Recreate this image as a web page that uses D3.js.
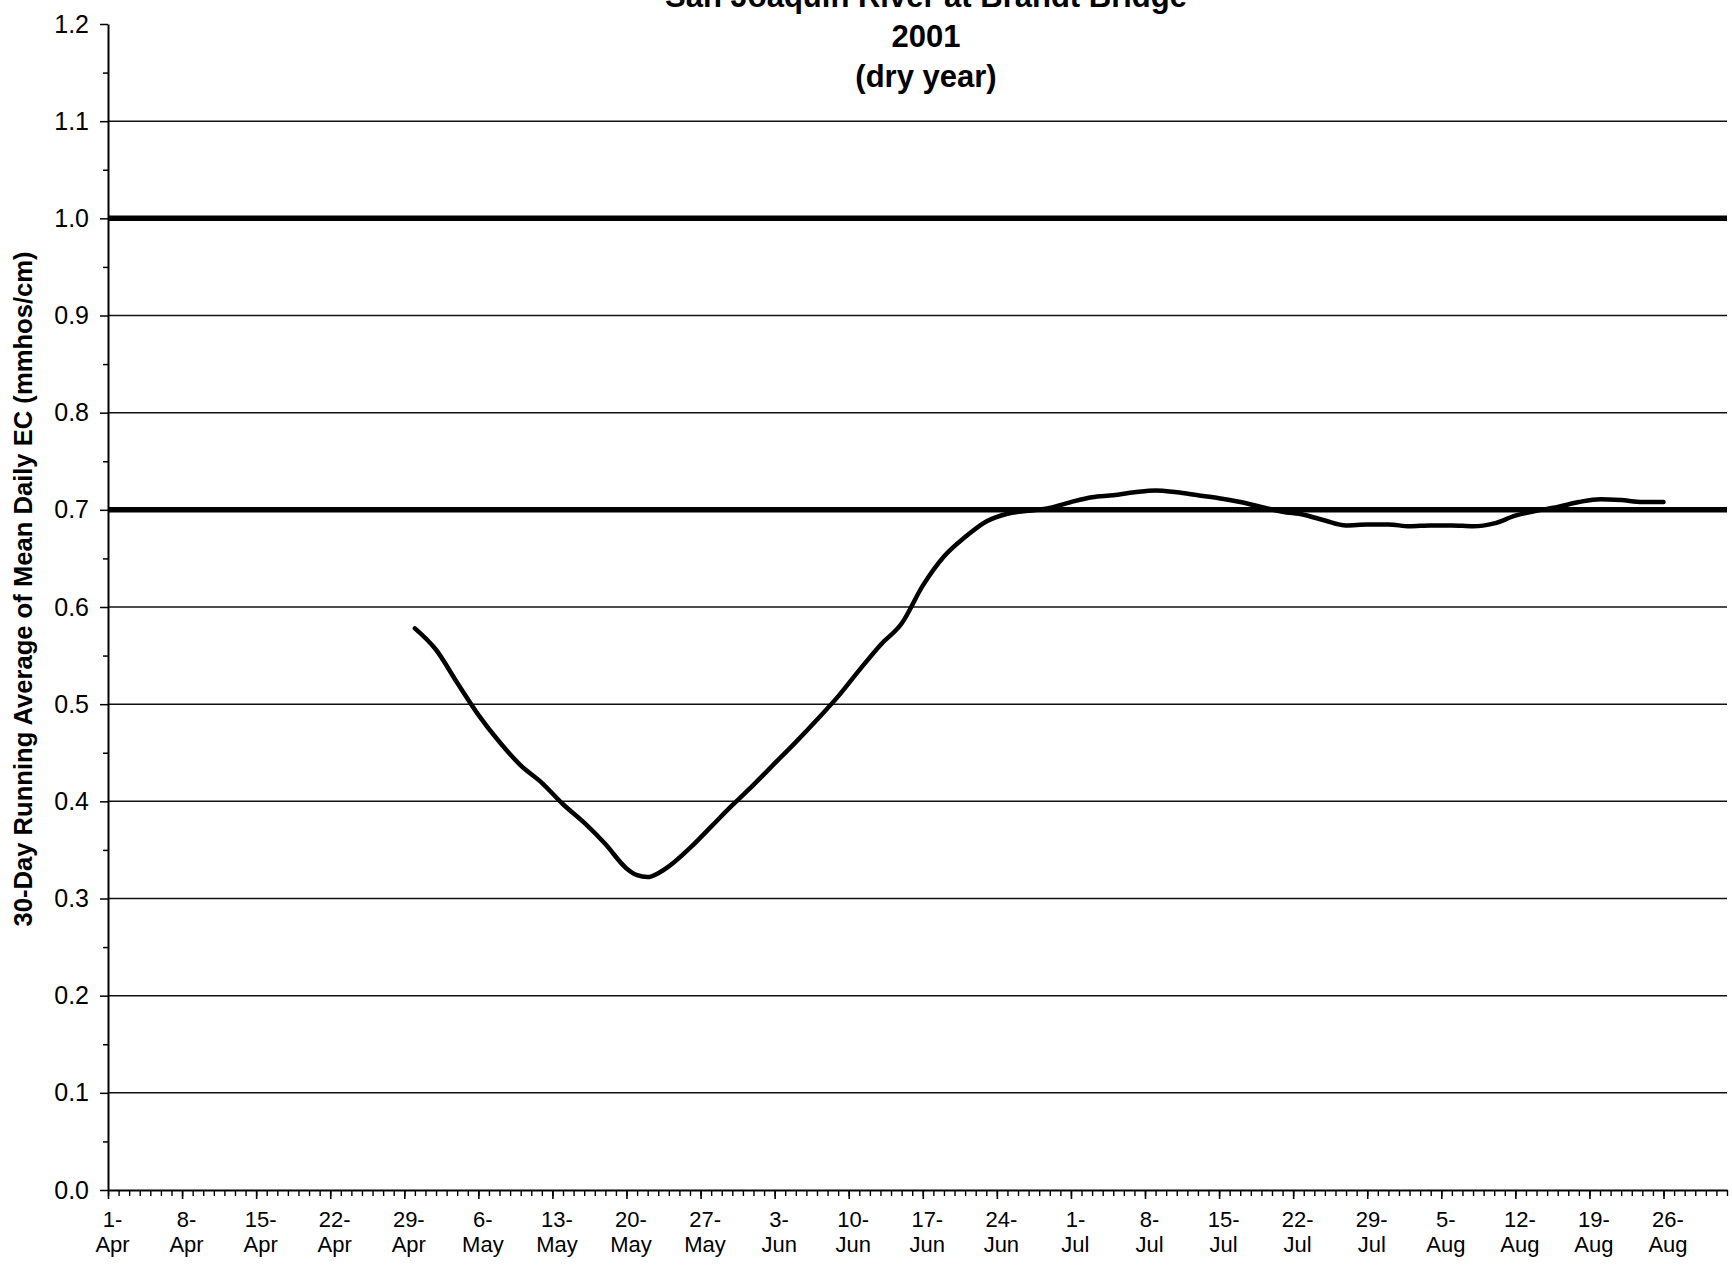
<!DOCTYPE html>
<html><head><meta charset="utf-8">
<script src="https://cdn.jsdelivr.net/npm/d3@7"></script>
<style>body{margin:0;background:#fff;} svg{display:block;}</style>
</head><body>
<svg id="chart" width="1732" height="1267"></svg>
<script>
// ---------- data ----------
const titleLines = ["San Joaquin River at Brandt Bridge", "2001", "(dry year)"];
const yAxisTitle = "30-Day Running Average of Mean Daily EC (mmhos/cm)";

const ecDates = [
  "2001-04-30","2001-05-02","2001-05-04","2001-05-06","2001-05-08","2001-05-10","2001-05-12",
  "2001-05-14","2001-05-16","2001-05-18","2001-05-20","2001-05-21","2001-05-22","2001-05-23",
  "2001-05-24","2001-05-26","2001-05-28","2001-05-30","2001-06-01","2001-06-03","2001-06-05",
  "2001-06-07","2001-06-09","2001-06-11","2001-06-13","2001-06-15","2001-06-17","2001-06-19",
  "2001-06-21","2001-06-23","2001-06-25","2001-06-27","2001-06-29","2001-07-01","2001-07-03",
  "2001-07-05","2001-07-07","2001-07-09","2001-07-11","2001-07-13","2001-07-15","2001-07-17",
  "2001-07-19","2001-07-21","2001-07-23","2001-07-25","2001-07-27","2001-07-29","2001-07-31",
  "2001-08-02","2001-08-04","2001-08-06","2001-08-08","2001-08-10","2001-08-12","2001-08-14",
  "2001-08-16","2001-08-18","2001-08-20","2001-08-22","2001-08-24","2001-08-26"
];
const ecValues = [
  0.578,0.556,0.522,0.489,0.461,0.437,0.419,
  0.397,0.378,0.356,0.331,0.324,0.322,0.326,
  0.333,0.352,0.374,0.396,0.417,0.439,0.461,
  0.484,0.508,0.535,0.561,0.583,0.622,0.652,
  0.672,0.688,0.696,0.699,0.702,0.708,0.713,
  0.715,0.718,0.720,0.718,0.715,0.712,0.708,
  0.703,0.698,0.695,0.689,0.684,0.685,0.685,
  0.683,0.684,0.684,0.683,0.686,0.694,0.699,
  0.703,0.708,0.711,0.710,0.708,0.708
];

const standardDates = ["2001-04-01", "2001-09-01"];
const standardHigh = [1.0, 1.0];
const standardLow = [0.7, 0.7];

const yTicks = [0.0,0.1,0.2,0.3,0.4,0.5,0.6,0.7,0.8,0.9,1.0,1.1,1.2];
const yGrid = [0.1,0.2,0.3,0.4,0.5,0.6,0.7,0.8,0.9,1.0,1.1];
const xDomain = ["2001-04-01", "2001-09-01"];

// ---------- layout ----------
const parse = d3.utcParse("%Y-%m-%d");
const svg = d3.select("#chart");
const L = 108, R = 1727, T = 24, B = 1190;
const FONT = "'Liberation Sans', Arial, sans-serif";

const x = d3.scaleUtc().domain(xDomain.map(parse)).range([L, R]);
const y = d3.scaleLinear().domain([0, 1.2]).range([B, T]);

// gridlines
svg.append("g").selectAll("line").data(yGrid).join("line")
  .attr("x1", L).attr("x2", R)
  .attr("y1", d => y(d)).attr("y2", d => y(d))
  .attr("stroke", "#111").attr("stroke-width", 1.5);

// y axis minor
const yMinor = d3.range(0.05, 1.2, 0.1);
svg.append("g").attr("transform", `translate(${L},0)`)
  .call(d3.axisLeft(y).tickValues(yMinor).tickSize(5).tickFormat(""))
  .call(g => g.select(".domain").remove())
  .selectAll("line").attr("stroke", "#000").attr("stroke-width", 1.5);

// y axis major
const yAx = svg.append("g").attr("transform", `translate(${L},0)`)
  .call(d3.axisLeft(y).tickValues(yTicks).tickFormat(d3.format(".1f")).tickSize(8).tickPadding(11).tickSizeOuter(0));
yAx.select(".domain").attr("stroke", "#000").attr("stroke-width", 2);
yAx.selectAll("line").attr("stroke", "#000").attr("stroke-width", 1.5);
yAx.selectAll("text").attr("font-family", FONT).attr("font-size", 25).attr("fill", "#000");

// x axis minor (daily)
const days = d3.utcDay.range(parse(xDomain[0]), d3.utcDay.offset(parse(xDomain[1]), 1));
svg.append("g").attr("transform", `translate(0,${B})`)
  .call(d3.axisBottom(x).tickValues(days).tickSize(6).tickFormat(""))
  .call(g => g.select(".domain").remove())
  .selectAll("line").attr("stroke", "#000").attr("stroke-width", 1.4);

// x axis major (weekly)
const weeks = d3.range(0, 150, 7).map(i => d3.utcDay.offset(parse(xDomain[0]), i));
const xAx = svg.append("g").attr("transform", `translate(0,${B})`)
  .call(d3.axisBottom(x).tickValues(weeks).tickSize(9).tickSizeOuter(0).tickFormat(""));
xAx.select(".domain").attr("stroke", "#000").attr("stroke-width", 2);
xAx.selectAll("line").attr("stroke", "#000").attr("stroke-width", 1.6);
const fmtD = d3.utcFormat("%-d-"), fmtM = d3.utcFormat("%b");
xAx.selectAll(".tick").append("text")
  .attr("font-family", FONT).attr("font-size", 22)
  .attr("fill", "#000").attr("text-anchor", "middle")
  .each(function(d) {
    const t = d3.select(this);
    t.append("tspan").attr("x", 4).attr("y", 37).text(fmtD(d));
    t.append("tspan").attr("x", 4).attr("y", 62).text(fmtM(d));
  });

// standards (thick lines)
const line = d3.line().x(d => x(d[0])).y(d => y(d[1]));
[standardHigh, standardLow].forEach(vals => {
  svg.append("path")
    .datum(standardDates.map((d, i) => [parse(d), vals[i]]))
    .attr("d", line).attr("fill", "none").attr("stroke", "#000").attr("stroke-width", 5.5);
});

// EC curve
svg.append("path")
  .datum(ecDates.map((d, i) => [parse(d), ecValues[i]]))
  .attr("d", line.curve(d3.curveMonotoneX))
  .attr("fill", "none").attr("stroke", "#000").attr("stroke-width", 4.5)
  .attr("stroke-linejoin", "round").attr("stroke-linecap", "round");

// titles
const tg = svg.append("g").attr("font-family", FONT)
  .attr("font-weight", "bold").attr("font-size", 31).attr("text-anchor", "middle").attr("fill", "#000");
[7, 47, 87].forEach((yy, i) => tg.append("text").attr("x", 926).attr("y", yy).text(titleLines[i]));

svg.append("text")
  .attr("transform", "translate(32,589) rotate(-90)")
  .attr("text-anchor", "middle")
  .attr("font-family", FONT)
  .attr("font-weight", "bold").attr("font-size", 25.6).attr("fill", "#000")
  .text(yAxisTitle);
</script>
</body></html>
